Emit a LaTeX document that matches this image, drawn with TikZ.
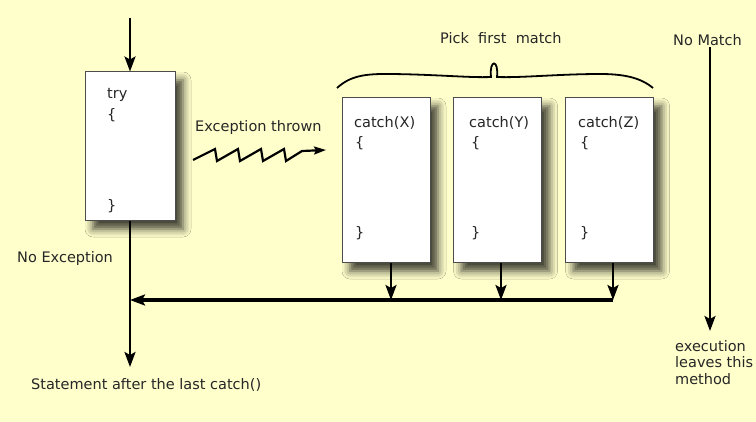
\documentclass[tikz,border=0pt]{standalone}
\usepackage{fontspec}
\setmainfont{DejaVu Sans}
\usetikzlibrary{arrows.meta,shadows.blur,positioning}
\definecolor{bgyellow}{RGB}{255,255,204}
\begin{document}
\begin{tikzpicture}
		[x=1pt,y=-1pt,
		font=\fontsize{14.5}{16.5}\selectfont,
		block/.style={draw=black!70,fill=white,line width=1pt,
			minimum width=88pt,minimum height=165pt,
			blur shadow={shadow xshift=8pt,shadow yshift=-8pt,
				shadow blur radius=8pt,shadow opacity=75}},
		code/.style={anchor=west,inner sep=0pt,text=black!85},
		flow/.style={line width=2.4pt,-{Stealth[length=15pt,width=11pt,inset=3pt]}}
		]
		\fill[bgyellow] (0,0) rectangle (756,422);
		\useasboundingbox (0,0) rectangle (756,422);
		% try block
		\node[block,minimum width=90pt,minimum height=149pt] (try) at (130,146.5) {};
		\node[code] (tryhead) at (107,95) {try};
		\node[code] (tryopen) at (107,115) {\{};
		\node[code] (tryclose) at (107,206) {\}};
		% catch blocks
		\node[block] (catchX) at (386,180.5) {};
		\node[block] (catchY) at (497.5,180.5) {};
		\node[block] (catchZ) at (609.5,180.5) {};
		\node[code] (headX) at (354,123) {catch(X)};
		\node[code] (headY) at (469,123) {catch(Y)};
		\node[code] (headZ) at (578,123) {catch(Z)};
		\foreach \x in {355,471,580}{
			\node[code] at (\x,143) {\{};
			\node[code] at (\x,233) {\}};
		}
		% labels
		\node[code] (pick) at (440,38) {Pick~ first~ match};
		\node[code] (thrown) at (195,128) {Exception thrown};
		\node[code] (noexc) at (17,259) {No Exception};
		\node[code] (after) at (31,385) {Statement after the last catch()};
		\node[code] (nomatch) at (673,40) {No Match};
		\node[code,anchor=north west,align=left] (leaves) at (675,340)
			{execution\\leaves this\\method};
		% flow
		\coordinate (entry) at (130,18);
		\coordinate (exit) at (130,367);
		\coordinate (join) at (130,300);
		\coordinate (bX) at (391,300);
		\coordinate (bY) at (501,300);
		\coordinate (bZ) at (613,300);
		\coordinate (leave) at (710,47);
		\coordinate (gone) at (710,331);
		\draw[flow] (entry) -- (try.north);
		\draw[flow] (try.south) -- (exit);
		\draw[flow] (catchX.south -| bX) -- (bX);
		\draw[flow] (catchY.south -| bY) -- (bY);
		\draw[flow] (catchZ.south -| bZ) -- (bZ);
		\draw[flow,line width=3.2pt] (bZ) -- (join);
		\draw[flow] (leave) -- (gone);
		% thrown zigzag
		\coordinate (zz) at (193,160);
		\coordinate (hit) at (326,150);
		\draw[line width=2.2pt,-{Stealth[length=12pt,width=8pt,inset=2pt]}]
			(zz) -- (215,149) -- (217,161) -- (238,149) -- (240,161)
			-- (261,149) -- (263,161) -- (284,149) -- (286,161) -- (302,151) -- (hit);
		% brace
		\draw[line width=1.8pt] (337,88) .. controls (350,76) and (365,74) .. (385,74)
			.. controls (430,74) and (470,78) .. (491,77)
			.. controls (489,59) and (499,59) .. (497,77)
			.. controls (520,78) and (560,74) .. (600,74)
			.. controls (622,74) and (640,77) .. (653,88);
	\end{tikzpicture}
\end{document}
